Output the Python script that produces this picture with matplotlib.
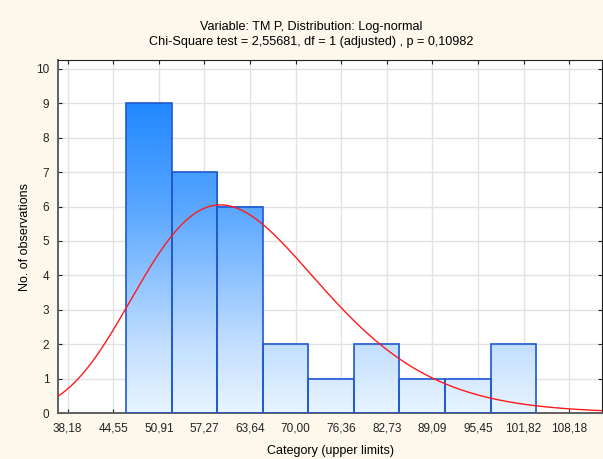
import numpy as np
import matplotlib
matplotlib.use('Agg')
import matplotlib.pyplot as plt
from matplotlib.colors import LinearSegmentedColormap

plt.rcParams['font.family'] = ['Liberation Sans', 'DejaVu Sans']

# histogram data (category upper limits on the axis)
tick_vals = [38.18, 44.55, 50.91, 57.27, 63.64, 70.00, 76.36, 82.73, 89.09, 95.45, 101.82, 108.18]
tick_labels = ['38,18', '44,55', '50,91', '57,27', '63,64', '70,00', '76,36',
               '82,73', '89,09', '95,45', '101,82', '108,18']
bin_left = [46.32, 52.68, 59.05, 65.41, 71.77, 78.14, 84.50, 90.86, 97.23]
counts = [9, 7, 6, 2, 1, 2, 1, 1, 2]
bin_width = 6.364

# fitted log-normal (scaled to counts)
mu, sigma = 4.1317, 0.2137
n_obs = sum(counts)

fig = plt.figure(figsize=(6.03, 4.59), dpi=100, facecolor='#fdf8ec')
ax = fig.add_axes([0.0957, 0.1002, 0.902, 0.769])
ax.set_facecolor('white')

cmap = LinearSegmentedColormap.from_list(
    'bars', [(0.0, '#e8f4ff'), (0.2, '#c2deff'), (0.6, '#58a6ff'), (0.9, '#2288ff'), (1.0, '#1a80ff')])
for x0, h in zip(bin_left, counts):
    grad = np.linspace(0, h, 200)[:, None]
    ax.imshow(grad, extent=(x0, x0 + bin_width, 0, h), origin='lower', cmap=cmap,
              vmin=0, vmax=10, aspect='auto', zorder=2)
ax.bar(bin_left, counts, width=bin_width, align='edge', fill=False,
       edgecolor='#1f58d0', linewidth=1.2, zorder=3)

xs = np.linspace(30, 120, 600)
ys = n_obs * bin_width / (xs * sigma * np.sqrt(2 * np.pi)) * np.exp(-(np.log(xs) - mu) ** 2 / (2 * sigma ** 2))
ax.plot(xs, ys, color='#ff1a1a', linewidth=1.0, zorder=4)

ax.set_xlim(36.79, 112.72)
ax.set_ylim(0, 10.26)
ax.set_xticks(tick_vals)
ax.set_xticklabels(tick_labels)
ax.set_yticks(range(11))
ax.grid(True, color='#e2e2e2', linewidth=1, zorder=0)
ax.set_axisbelow(True)
ax.tick_params(direction='in', length=3, labelsize=8.5, colors='#222222',
               top=True, right=True)
ax.tick_params(axis='x', pad=7)
ax.tick_params(axis='y', pad=6)

for s in ['left', 'bottom']:
    ax.spines[s].set_color('#606060')
    ax.spines[s].set_linewidth(1.4)
for s in ['top', 'right']:
    ax.spines[s].set_color('#202020')
    ax.spines[s].set_linewidth(0.8)

ax.set_ylabel('No. of observations', fontsize=9, labelpad=4)
fig.text(0.548, 0.017, 'Category (upper limits)', ha='center', va='center', fontsize=9)
fig.text(0.516, 0.942, 'Variable: TM P, Distribution: Log-normal', ha='center', va='center', fontsize=9.1)
fig.text(0.516, 0.909, 'Chi-Square test = 2,55681, df = 1 (adjusted) , p = 0,10982',
         ha='center', va='center', fontsize=9.1)

fig.savefig('out.png', dpi=100, facecolor=fig.get_facecolor())
